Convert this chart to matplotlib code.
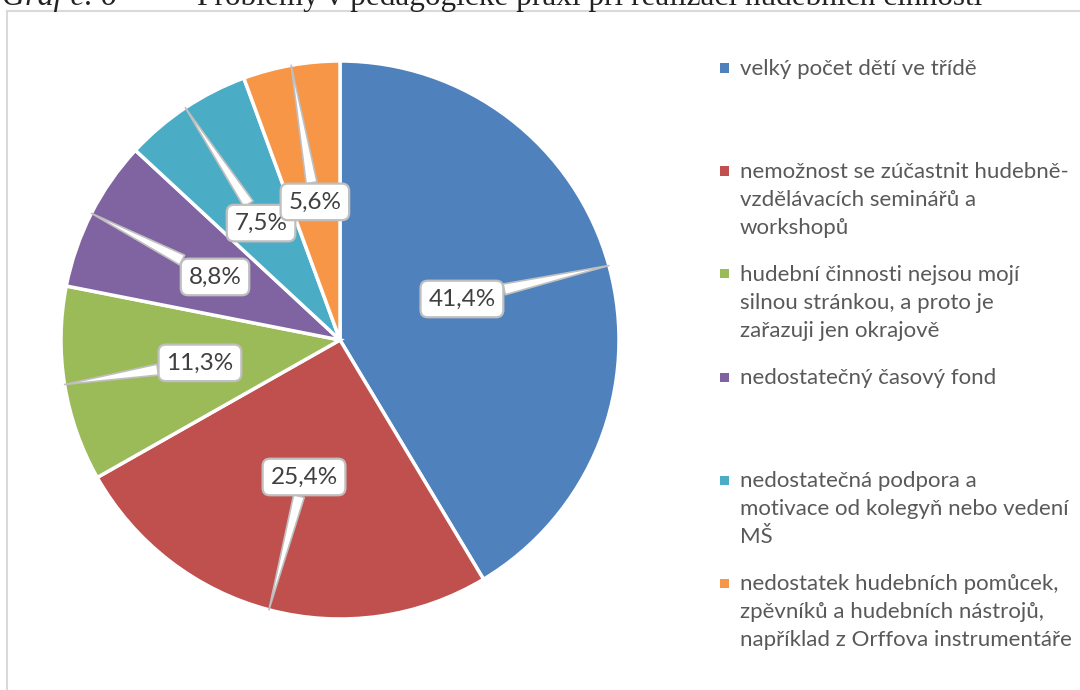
import matplotlib
matplotlib.use("Agg")
import matplotlib.pyplot as plt
from matplotlib.lines import Line2D
from matplotlib.patches import Rectangle
import numpy as np

# data
categories = [
    "velký počet dětí ve třídě",
    "nemožnost se zúčastnit hudebně-\nvzdělávacích seminářů a\nworkshopů",
    "hudební činnosti nejsou mojí\nsilnou stránkou, a proto je\nzařazuji jen okrajově",
    "nedostatečný časový fond",
    "nedostatečná podpora a\nmotivace od kolegyň nebo vedení\nMŠ",
    "nedostatek hudebních pomůcek,\nzpěvníků a hudebních nástrojů,\nnapříklad z Orffova instrumentáře",
]
values = [41.4, 25.4, 11.3, 8.8, 7.5, 5.6]
value_labels = ["41,4%", "25,4%", "11,3%", "8,8%", "7,5%", "5,6%"]
colors = ["#4F81BD", "#C0504D", "#9BBB59", "#8064A2", "#4BACC6", "#F79646"]

# layout: callout box centres (pie radius units), legend rows (px from top)
box_pos = [(0.437, 0.147), (-0.129, -0.491), (-0.502, -0.082),
           (-0.448, 0.226), (-0.283, 0.419), (-0.09, 0.495)]
legend_top, legend_step, line_h = 68, 103, 28

W, H = 1080, 690
fig = plt.figure(figsize=(W / 100, H / 100), dpi=100)
fig.patch.set_facecolor("white")

# chart frame (cut by the page edge)
fig.add_artist(Line2D([7 / W, 7 / W], [0, 1 - 11 / H], color="#D9D9D9", lw=1.5))
fig.add_artist(Line2D([7 / W, 1], [1 - 11 / H, 1 - 11 / H], color="#D9D9D9", lw=1.5))

# caption above the chart, cut by the top edge
fig.text(2 / W, 1 - 5 / H, "Graf č. 6", fontsize=23, family="Liberation Serif",
         style="italic", color="#222222", va="baseline", ha="left")
fig.text(197 / W, 1 - 5 / H,
         "Problémy v pedagogické praxi při realizaci hudebních činností",
         fontsize=22.5, family="Liberation Serif", color="#222222",
         va="baseline", ha="left")

cx, cy, r = 340, 340, 279
ax = fig.add_axes([(cx - r) / W, (H - cy - r) / H, 2 * r / W, 2 * r / H])
wedges, _ = ax.pie(values, colors=colors, startangle=90, counterclock=False,
                   radius=1, wedgeprops=dict(edgecolor="white", linewidth=2.5))
ax.set_xlim(-1, 1)
ax.set_ylim(-1, 1)
ax.set_aspect("equal")
ax.axis("off")

# callouts pointing to the middle of each slice edge
for w, lab, pos in zip(wedges, value_labels, box_pos):
    mid = np.deg2rad((w.theta1 + w.theta2) / 2)
    tip = (np.cos(mid), np.sin(mid))
    ax.annotate(lab, xy=tip, xytext=pos, ha="center", va="center",
                fontsize=17.5, color="#404040", family="Lato",
                bbox=dict(boxstyle="round,pad=0.32,rounding_size=0.3",
                          fc="white", ec="#BFBFBF", lw=1.6),
                arrowprops=dict(arrowstyle="wedge,tail_width=0.45,shrink_factor=0.5",
                                fc="white", ec="#BFBFBF", lw=1.2,
                                shrinkA=0, shrinkB=0),
                annotation_clip=False)

# legend, one text per line so the line pitch is exact
for i, (lab, col) in enumerate(zip(categories, colors)):
    y = legend_top + legend_step * i
    fig.add_artist(Rectangle(((724 - 4.5) / W, 1 - (y + 4.5) / H), 9 / W, 9 / H,
                             transform=fig.transFigure, fc=col, ec="none"))
    for j, line in enumerate(lab.split("\n")):
        fig.text(740 / W, 1 - (y + 7 + line_h * j) / H, line, fontsize=16,
                 family="Lato", color="#595959", va="baseline", ha="left")

fig.savefig("out.png", dpi=100)
